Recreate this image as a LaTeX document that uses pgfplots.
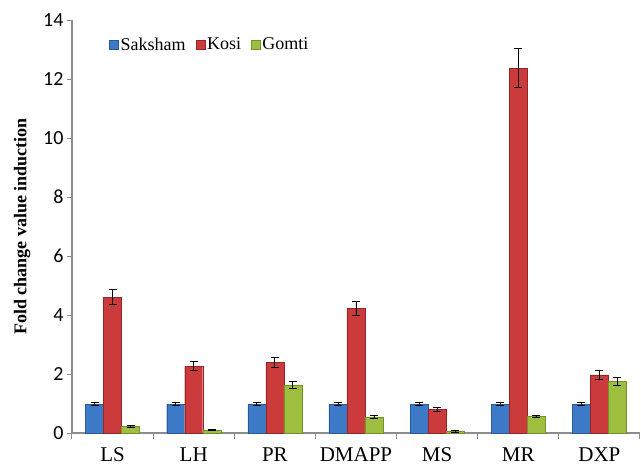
\documentclass[border=0pt]{standalone}
\usepackage{pgfplots}
\pgfplotsset{compat=1.18}
\usepackage{fontspec}
\setmainfont{Liberation Serif}
\newfontfamily\tickfont{Carlito}

\definecolor{sakF}{HTML}{3C79C6}
\definecolor{sakD}{HTML}{2A5A9A}
\definecolor{kosF}{HTML}{CB3B3B}
\definecolor{kosD}{HTML}{962626}
\definecolor{gomF}{HTML}{9DBE3E}
\definecolor{gomD}{HTML}{73902A}
\definecolor{axgray}{HTML}{8C8C8C}

\begin{document}
\begin{tikzpicture}[x=1pt,y=1pt]
\path[use as bounding box] (0,0) rectangle (641,467);
\begin{axis}[
  at={(72pt,34pt)}, anchor=south west,
  scale only axis, width=568pt, height=413pt,
  ybar=0pt, bar width=18pt,
  xmin=-0.5, xmax=6.5, ymin=0, ymax=14,
  ytick={0,2,...,14},
  xtick={0,...,6},
  xticklabels={LS,LH,PR,DMAPP,MS,MR,DXP},
  minor xtick={-0.5,0.5,...,6.5},
  major x tick style={draw=none},
  minor x tick style={axgray, line width=1pt},
  minor tick length=6pt,
  major tick length=5pt,
  y tick style={axgray, line width=1pt},
  tick align=outside,
  axis x line*=bottom, axis y line*=left,
  axis line style={axgray, line width=1.3pt},
  xticklabel style={font=\fontsize{21}{24}\selectfont, yshift=-6pt},
  yticklabel style={font=\tickfont\fontsize{20}{22}\selectfont},
  /pgf/number format/assume math mode=true,
  ylabel={Fold change value induction},
  every axis y label/.style={at={(-50pt,0.5)}, rotate=90, anchor=center,
    font=\bfseries\fontsize{18}{20}\selectfont},
  legend style={at={(0.06,0.94)}, anchor=west, draw=none, fill=none,
    font=\fontsize{18}{20}\selectfont, legend columns=3,
    /tikz/every even column/.append style={column sep=8pt}},
  legend image code/.code={\fill[#1] (0pt,-4.5pt) rectangle (9pt,4.5pt);},
  error bars/y dir=both, error bars/y explicit,
  error bars/error mark options={rotate=90, mark size=4pt, black, line width=0.9pt},
  error bars/error bar style={black, line width=0.9pt},
  clip=false,
]
% Saksham
\addplot[draw=sakD, line width=0.4pt, fill=sakF]
  coordinates {(0,0.97) +- (0,0.05) (1,0.97) +- (0,0.05) (2,0.97) +- (0,0.05) (3,0.97) +- (0,0.05)
               (4,0.97) +- (0,0.05) (5,0.97) +- (0,0.05) (6,0.97) +- (0,0.05)};
% Kosi
\addplot[draw=kosD, line width=0.4pt, fill=kosF]
  coordinates {(0,4.61) +- (0,0.25) (1,2.26) +- (0,0.15) (2,2.39) +- (0,0.17) (3,4.23) +- (0,0.24)
               (4,0.80) +- (0,0.07) (5,12.37) +- (0,0.65) (6,1.97) +- (0,0.14)};
% Gomti
\addplot[draw=gomD, line width=0.4pt, fill=gomF]
  coordinates {(0,0.22) +- (0,0.03) (1,0.11) +- (0,0.02) (2,1.63) +- (0,0.12) (3,0.55) +- (0,0.05)
               (4,0.05) +- (0,0.02) (5,0.57) +- (0,0.04) (6,1.75) +- (0,0.13)};
\legend{Saksham,Kosi,Gomti}
\end{axis}
\end{tikzpicture}
\end{document}
